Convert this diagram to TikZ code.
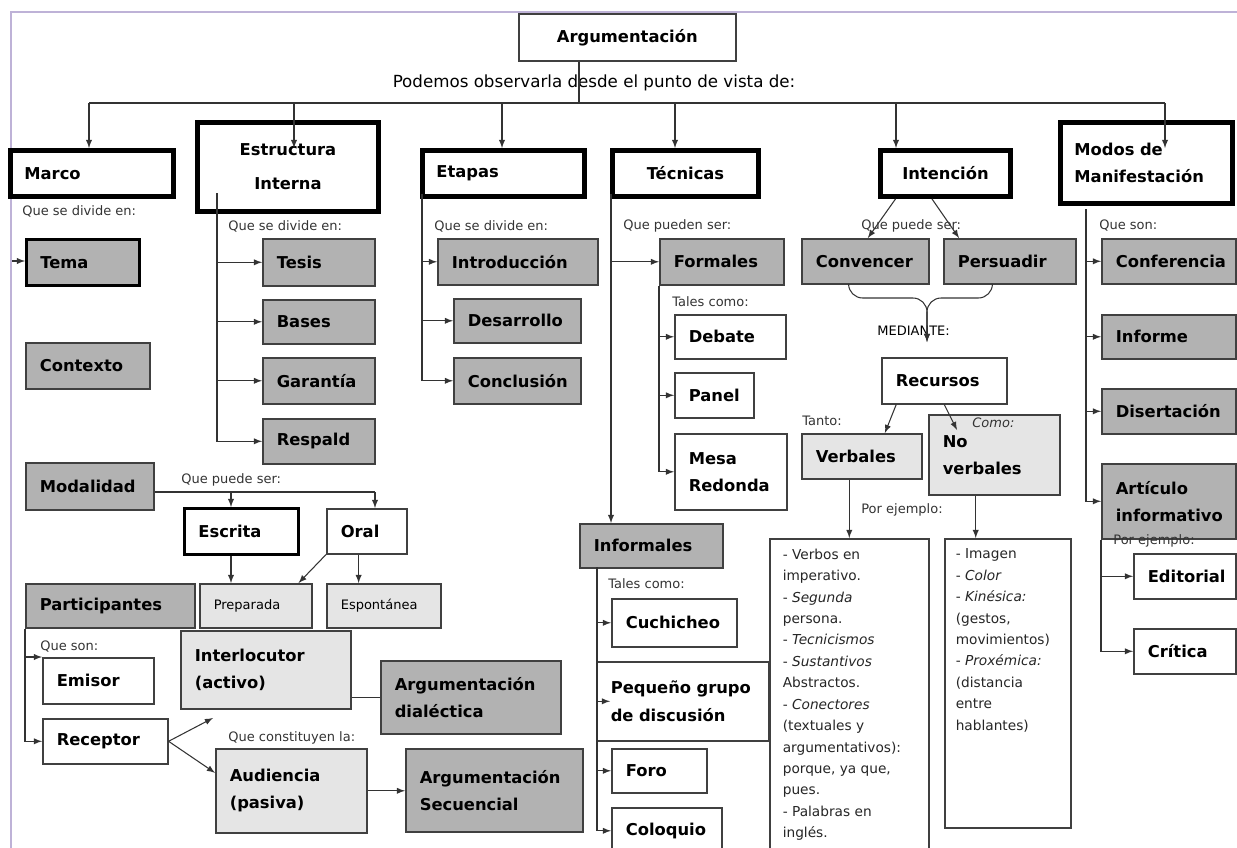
\documentclass[tikz,border=0pt]{standalone}
\usepackage{fontspec}
\setmainfont{DejaVu Sans}
\usetikzlibrary{calc}
\definecolor{marcolila}{RGB}{190,178,215}
\newlength\pxu
\setlength\pxu{0.02cm}

\begin{document}
\begin{tikzpicture}[x=0.02cm, y=-0.02cm,
  caja/.style={rectangle, anchor=north west, inner xsep=0.28cm, inner ysep=0pt, align=left, font=\fontsize{9.3}{15.5}\selectfont\bfseries},
  wh/.style 2 args={minimum width=#1*0.02cm, minimum height=#2*0.02cm, text width=#1*0.02cm-0.56cm},
  gruesa/.style={caja, draw=black, line width=2.8pt, fill=white},
  gris/.style={caja, draw=black!75, line width=0.9pt, fill=black!30},
  claro/.style={caja, draw=black!75, line width=0.9pt, fill=black!10},
  blanca/.style={caja, draw=black!75, line width=0.9pt, fill=white},
  chica/.style={font=\fontsize{7.4}{9}\selectfont},
  lista/.style={rectangle, anchor=north west, draw=black!75, line width=0.9pt, fill=white, inner xsep=0.26cm, inner ysep=0.2cm, text=black!85, font=\fontsize{7.8}{12.2}\selectfont},
  nota/.style={anchor=west, inner sep=0pt, text=black!80, font=\fontsize{7.4}{9}\selectfont},
  flecha/.style={-latex, draw=black!80, line width=0.6pt}
]
\useasboundingbox (0,0) rectangle (1237,848);
\clip (0,0) rectangle (1237,848);
\draw[marcolila, line width=1.2pt] (11,12) rectangle (1260,900);

%Nodos de arriba
\node[blanca, wh={217}{47}, align=center] (arg) at (518,13) {Argumentación};
\node[anchor=center, inner sep=0pt, font=\fontsize{9.5}{11}\selectfont] (podemos) at (594,83) {Podemos observarla desde el punto de vista de:};
\node[gruesa, wh={163}{46}] (marco) at (8,148) {Marco};
\node[gruesa, wh={181}{89}, align=center] (est) at (195,120) {Estructura\\[4pt]Interna};
\node[gruesa, wh={162}{46}] (etapas) at (420,148) {Etapas};
\node[gruesa, wh={146}{46}, align=center] (tecnicas) at (610,148) {Técnicas};
\node[gruesa, wh={130}{46}, align=center] (inten) at (878,148) {Intención};
\node[gruesa, wh={172}{81}] (modos) at (1058,120) {Modos~de\\Manifestación};

%Marco
\node[gris, wh={113}{46}, draw=black, line width=1.5pt] (tema) at (25,238) {Tema};
\node[gris, wh={124}{46}] (contexto) at (25,342) {Contexto};
\node[gris, wh={128}{47}] (modalidad) at (25,462) {Modalidad};
\node[blanca, wh={114}{46}, draw=black, line width=1.6pt] (escrita) at (183,507) {Escrita};
\node[blanca, wh={80}{45}] (oral) at (326,508) {Oral};
\node[claro, wh={112}{44}, chica] (preparada) at (199,583) {Preparada};
\node[claro, wh={114}{44}, chica] (espontanea) at (326,583) {Espontánea};
\node[gris, wh={169}{44}] (participantes) at (25,583) {Participantes};
\node[blanca, wh={111}{46}] (emisor) at (42,657) {Emisor};
\node[blanca, wh={125}{45}] (receptor) at (42,718) {Receptor};
\node[claro, wh={170}{78}] (interlocutor) at (180,630) {Interlocutor\\(activo)};
\node[claro, wh={151}{84}] (audiencia) at (215,748) {Audiencia\\(pasiva)};
\node[gris, wh={180}{73}] (dialectica) at (380,660) {Argumentación\\dialéctica};
\node[gris, wh={177}{83}] (secuencial) at (405,748) {Argumentación\\Secuencial};

%Estructura interna
\node[gris, wh={112}{47}] (tesis) at (262,238) {Tesis};
\node[gris, wh={112}{44}] (bases) at (262,299) {Bases};
\node[gris, wh={112}{46}] (garantia) at (262,357) {Garantía};
\node[gris, wh={112}{45}] (respald) at (262,418) {Respald};

%Etapas
\node[gris, wh={160}{46}] (intro) at (437,238) {Introducción};
\node[gris, wh={127}{44}] (desarrollo) at (453,298) {Desarrollo};
\node[gris, wh={127}{46}] (conclusion) at (453,357) {Conclusión};

%Tecnicas
\node[gris, wh={124}{46}] (formales) at (659,238) {Formales};
\node[blanca, wh={111}{44}] (debate) at (674,314) {Debate};
\node[blanca, wh={79}{45}] (panel) at (674,372) {Panel};
\node[blanca, wh={112}{76}] (mesa) at (674,433) {Mesa\\Redonda};
\node[gris, wh={143}{44}] (informales) at (579,523) {Informales};
\node[blanca, wh={125}{48}] (cuchicheo) at (611,598) {Cuchicheo};
\node[blanca, wh={172}{79}] (pequeno) at (596,661) {Pequeño~grupo\\de discusión};
\node[blanca, wh={95}{44}] (foro) at (611,748) {Foro};
\node[blanca, wh={110}{46}] (coloquio) at (611,807) {Coloquio};

%Intencion
\node[gris, wh={127}{45}] (convencer) at (801,238) {Convencer};
\node[gris, wh={132}{45}] (persuadir) at (943,238) {Persuadir};
\node[blanca, wh={125}{46}] (recursos) at (881,357) {Recursos};
\node[claro, wh={120}{45}] (verbales) at (801,433) {Verbales};
\node[claro, wh={131}{80}] (noverb) at (928,414) {No\\verbales};
\node[lista] (listaV) at (769,538) {\parbox[t][300\pxu][t]{133\pxu}{\raggedright
  - Verbos en\\imperativo.\\- \textit{Segunda}\\persona.\\- \textit{Tecnicismos}\\- \textit{Sustantivos}\\Abstractos.\\- \textit{Conectores}\\(textuales y\\argumentativos):\\porque, ya que,\\pues.\\- Palabras en\\inglés.}};
\node[lista, inner xsep=0.22cm] (listaNV) at (944,538) {\parbox[t][269\pxu][t]{104\pxu}{\raggedright
  - Imagen\\- \textit{Color}\\- \textit{Kinésica:}\\(gestos,\\movimientos)\\- \textit{Proxémica:}\\(distancia\\entre\\hablantes)}};

%Modos de manifestacion
\node[gris, wh={134}{45}] (conferencia) at (1101,238) {Conferencia};
\node[gris, wh={134}{44}] (informe) at (1101,314) {Informe};
\node[gris, wh={134}{45}] (disertacion) at (1101,388) {Disertación};
\node[gris, wh={134}{75}] (articulo) at (1101,463) {Artículo\\informativo};
\node[blanca, wh={102}{45}] (editorial) at (1133,553) {Editorial};
\node[blanca, wh={102}{45}] (critica) at (1133,628) {Crítica};

%Textos
\node[nota] (qsd1) at (22,211) {Que se divide en:};
\node[nota] (qsd2) at (228,226) {Que se divide en:};
\node[nota] (qsd3) at (434,226) {Que se divide en:};
\node[nota] (qps) at (623,226) {Que pueden ser:};
\node[nota] (tc1) at (672,302) {Tales como:};
\node[nota] (tc2) at (608,584) {Tales como:};
\node[nota] (qpi) at (861,226) {Que puede ser:};
\node[nota] (qsm) at (1099,226) {Que son:};
\node[nota] (qpm) at (181,480) {Que puede ser:};
\node[nota] (qsp) at (40,647) {Que son:};
\node[nota] (qcl) at (228,738) {Que constituyen la:};
\node[nota, text=black] (mediante) at (877,331) {MEDIANTE:};
\node[nota] (tanto) at (802,421) {Tanto:};
\node[nota, font=\fontsize{7.4}{9}\selectfont\itshape] (como) at (972,423) {Como:};
\node[nota] (pe1) at (861,510) {Por ejemplo:};
\node[nota] (pe2) at (1113,541) {Por ejemplo:};

%Conectores de arriba
\coordinate (busA) at (579,103);
\coordinate (bMar) at (89,103);
\coordinate (bEst) at (294,103);
\coordinate (bEta) at (502,103);
\coordinate (bTec) at (675,103);
\coordinate (bInt) at (896,103);
\coordinate (bMod) at (1165,103);
\draw[black!80, line width=0.6pt] (busA |- arg.south) -- (busA);
\draw[black!80, line width=0.6pt] (bMar) -- (bMod);
\draw[flecha] (bMar) -- (bMar |- marco.north);
\draw[flecha] (bEst) -- (bEst |- etapas.north);
\draw[flecha] (bEta) -- (bEta |- etapas.north);
\draw[flecha] (bTec) -- (bTec |- tecnicas.north);
\draw[flecha] (bInt) -- (bInt |- inten.north);
\draw[flecha] (bMod) -- (bMod |- inten.north);

%Marco
\coordinate (marL) at (12,261);
\draw[flecha] (marL) -- (marL -| tema.west);
\coordinate (modR) at (375,492);
\coordinate (modE) at (231,492);
\draw[black!80, line width=0.6pt] (modalidad.east |- modR) -- (modR);
\draw[flecha] (modR) -- (modR |- oral.north);
\draw[flecha] (modE) -- (modE |- escrita.north);
\draw[flecha] (modE |- escrita.south) -- (modE |- preparada.north);
\draw[flecha] (oral.south west) -- ($(preparada.north east)+(-14,0)$);
\coordinate (oralB) at ($(oral.south west)!0.4!(oral.south east)$);
\draw[flecha] (oralB) -- (oralB |- espontanea.north);
\draw[flecha] (participantes.south west) |- (receptor.west);
\draw[flecha] (participantes.south west |- emisor.north west) -- (emisor.north west);
\coordinate (recA) at (213,718);
\draw[flecha] (receptor.east) -- (recA);
\draw[flecha] (receptor.east) -- ($(audiencia.north west)!0.29!(audiencia.south west)$);
\draw[black!80, line width=0.6pt] (interlocutor.east |- dialectica.west) -- (dialectica.west);
\draw[flecha] (audiencia.east) -- (audiencia.east -| secuencial.west);

%Estructura y etapas
\coordinate (estT) at (217,193);
\draw[flecha] (estT) |- (respald.west);
\foreach \n in {tesis,bases,garantia}
  \draw[flecha] (estT |- \n.west) -- (\n.west);
\coordinate (etaT) at (422,194);
\draw[flecha] (etaT) |- (conclusion.west);
\foreach \n in {intro,desarrollo}
  \draw[flecha] (etaT |- \n.west) -- (\n.west);

%Tecnicas
\coordinate (tecT) at (611,194);
\draw[flecha] (tecT) -- (tecT |- informales.north);
\draw[flecha] (tecT |- formales.west) -- (formales.west);
\draw[flecha] (formales.south west) |- (mesa.west);
\foreach \n in {debate,panel}
  \draw[flecha] (formales.south west |- \n.west) -- (\n.west);
\coordinate (infT) at (597,567);
\draw[flecha] (infT) |- (coloquio.west);
\foreach \n in {cuchicheo,foro}
  \draw[flecha] (infT |- \n.west) -- (\n.west);
\draw[flecha] (infT |- pequeno.west) -- ++(13,0);

%Intencion
\draw[flecha] ($(inten.south west)!0.13!(inten.south east)$) -- ($(convencer.north west)!0.52!(convencer.north east)$);
\draw[flecha] ($(inten.south west)!0.4!(inten.south east)$) -- ($(persuadir.north west)!0.12!(persuadir.north east)$);
\coordinate (brM) at (927,298);
\coordinate (medE) at (927,342);
\draw[flecha, rounded corners=8] ($(convencer.south west)!0.37!(convencer.south east)$) |- (brM) -- (medE);
\draw[flecha, rounded corners=8] ($(persuadir.south west)!0.37!(persuadir.south east)$) |- (brM) -- (medE);
\coordinate (noA) at (957,430);
\draw[flecha] ($(recursos.south west)!0.12!(recursos.south east)$) -- ($(verbales.north west)!0.69!(verbales.north east)$);
\draw[flecha] (recursos.south) -- (noA);
\draw[flecha] (listaV.north |- verbales.south) -- (listaV.north);
\coordinate (nvB) at ($(noverb.south west)!0.36!(noverb.south east)$);
\draw[flecha] (nvB) -- (nvB |- listaNV.north);

%Modos de manifestacion
\coordinate (modT) at (1086,209);
\draw[flecha] (modT) |- (articulo.west);
\foreach \n in {conferencia,informe,disertacion}
  \draw[flecha] (modT |- \n.west) -- (\n.west);
\draw[flecha] (articulo.south west) |- (critica.west);
\draw[flecha] (articulo.south west |- editorial.west) -- (editorial.west);
\end{tikzpicture}
\end{document}
